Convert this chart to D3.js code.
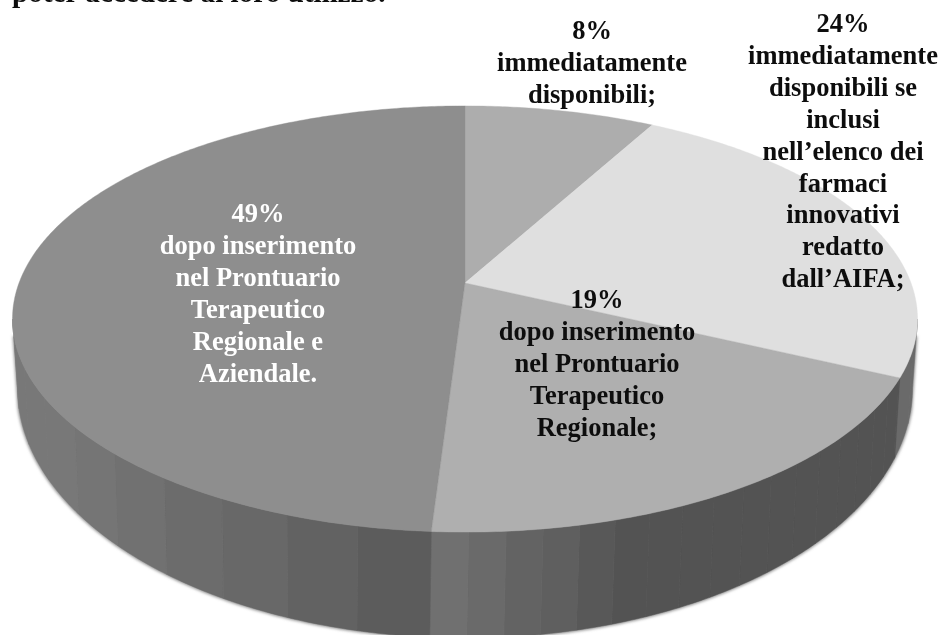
<!DOCTYPE html>
<html>
<head>
<meta charset="utf-8">
<script src="https://cdn.jsdelivr.net/npm/d3@7"></script>
<style>
  html, body { margin: 0; padding: 0; background: #fff; }
  svg { display: block; }
  text { font-family: "Liberation Serif", serif; font-weight: bold; font-size: 26.5px; text-anchor: middle; }
</style>
</head>
<body>
<svg id="chart" width="944" height="635"></svg>
<script>
const shares = [8, 24, 19, 49];
const percentLabels = ['8%', '24%', '19%', '49%'];
const descriptions = [
  ['immediatamente', 'disponibili;'],
  ['immediatamente', 'disponibili se', 'inclusi', 'nell\u2019elenco dei', 'farmaci', 'innovativi', 'redatto', 'dall\u2019AIFA;'],
  ['dopo inserimento', 'nel Prontuario', 'Terapeutico', 'Regionale;'],
  ['dopo inserimento', 'nel Prontuario', 'Terapeutico', 'Regionale e', 'Aziendale.']
];
const titleTail = 'poter accedere ai loro utilizzo.';

// Look of the slices
const topColors = ['#adadad', '#dfdfdf', '#afafaf', '#8e8e8e'];
const labelColors = ['#111111', '#111111', '#111111', '#ffffff'];
const labelAnchors = [[592, 39], [843, 32], [597, 308], [258, 222]];
const lineHeight = 31.9;

// The disc is tilted, so the centre of the pie is not the centre of the ellipse
const apex = { x: 465, y: 283 };
const tilt = { k: 0.169, rx: 446, ry: 207 };
const topEllipse = { cx: 467, cy: 319, rx: 453, ry: 213 };
const baseEllipse = { cx: 465, cy: 388, rx: 447.5, ry: 250 };

const svg = d3.select('#chart');

function project(a) {
  let u = Math.sin(a), v = -Math.cos(a);
  let w = 1 - tilt.k * v;
  return [apex.x + tilt.rx * u / w, apex.y + tilt.ry * v / w];
}

// Point of the lower rim right below a point of the upper rim
function drop(p) {
  let phi = Math.atan2((p[1] - topEllipse.cy) / topEllipse.ry, (p[0] - topEllipse.cx) / topEllipse.rx);
  return [baseEllipse.cx + baseEllipse.rx * Math.cos(phi), baseEllipse.cy + baseEllipse.ry * Math.sin(phi)];
}

function arcPoints(a0, a1) {
  let n = Math.max(2, Math.ceil((a1 - a0) / 0.01));
  return d3.range(n + 1).map(i => project(a0 + (a1 - a0) * i / n));
}

const deg = Math.PI / 180;
const line = d3.line().curve(d3.curveLinear);
const slices = d3.pie().sort(null).startAngle(0).endAngle(2 * Math.PI)(shares);

// Side wall: facets only, from one widest point of the upper rim to the other
const widest = Math.asin(0.169);
const visible = [Math.PI / 2 + widest, 3 * Math.PI / 2 - widest];
const shadeLeft = d3.scaleLinear().domain([183.6, 190, 232]).range([0x56, 0x5f, 0x78]).clamp(true);
const shadeRight = d3.scaleLinear().domain([162, 183.6]).range([0x53, 0x73]).clamp(true);

function wallColor(i, a) {
  let d = a / deg, g;
  if (i == 1) g = 0x6a;
  else if (i == 2) g = shadeRight(d);
  else g = shadeLeft(d);
  g = Math.round(g);
  return d3.rgb(g, g, g).formatHex();
}

let facets = [];
slices.forEach((s, i) => {
  let a0 = Math.max(s.startAngle, visible[0]);
  let a1 = Math.min(s.endAngle, visible[1]);
  if (a0 >= a1) return;
  let step = (i == 2 ? 4 : 8) * deg;
  let edges = d3.range(a0, a1, step).concat([a1]);
  if (i == 2) edges = d3.range(a1, a0, -step).concat([a0]).reverse();
  d3.pairs(edges).forEach(e => {
    facets.push({ a0: e[0], a1: e[1], color: wallColor(i, (e[0] + e[1]) / 2) });
  });
});

function wallPath(a0, a1) {
  let top = arcPoints(a0, a1);
  let bottom = top.map(drop).reverse();
  return line(top.concat(bottom)) + 'Z';
}

// Soft shadow hugging the outer edge of the wall
const defs = svg.append('defs');
defs.append('filter').attr('id', 'soft')
  .attr('x', '-5%').attr('y', '-5%').attr('width', '110%').attr('height', '110%')
  .append('feGaussianBlur').attr('stdDeviation', 1.6);
defs.append('filter').attr('id', 'scan')
  .append('feGaussianBlur').attr('stdDeviation', 0.45);

// Start lower than the wall itself, so no spike shows at the widest points
svg.append('path')
  .attr('d', wallPath(visible[0] + 0.08, visible[1] - 0.08))
  .attr('fill', '#8a8a8a')
  .attr('stroke', '#8a8a8a')
  .attr('stroke-width', 2.5)
  .attr('filter', 'url(#soft)');

const disc = svg.append('g').attr('filter', 'url(#scan)');

disc.selectAll('.facet')
  .data(facets)
  .enter()
  .append('path')
  .attr('class', 'facet')
  .attr('d', d => wallPath(d.a0, d.a1))
  .attr('fill', d => d.color)
  .attr('stroke', d => d.color)
  .attr('stroke-width', 0.5);

// Top of the pie
disc.selectAll('.slice')
  .data(slices)
  .enter()
  .append('path')
  .attr('class', 'slice')
  .attr('d', d => line([[apex.x, apex.y]].concat(arcPoints(d.startAngle, d.endAngle))) + 'Z')
  .attr('fill', (d, i) => topColors[i])
  .attr('stroke', (d, i) => topColors[i])
  .attr('stroke-width', 0.4);

// Labels
const labels = svg.append('g').attr('filter', 'url(#scan)');

labels.append('text')
  .attr('x', 12)
  .attr('y', 2)
  .attr('fill', '#111111')
  .style('text-anchor', 'start')
  .style('font-size', '29.2px')
  .text(titleTail);

percentLabels.forEach((pct, i) => {
  let rows = [pct].concat(descriptions[i]);
  labels.selectAll('.label' + i)
    .data(rows)
    .enter()
    .append('text')
    .attr('class', 'label' + i)
    .attr('x', labelAnchors[i][0])
    .attr('y', (d, j) => labelAnchors[i][1] + j * lineHeight)
    .attr('fill', labelColors[i])
    .text(d => d);
});
</script>
</body>
</html>
